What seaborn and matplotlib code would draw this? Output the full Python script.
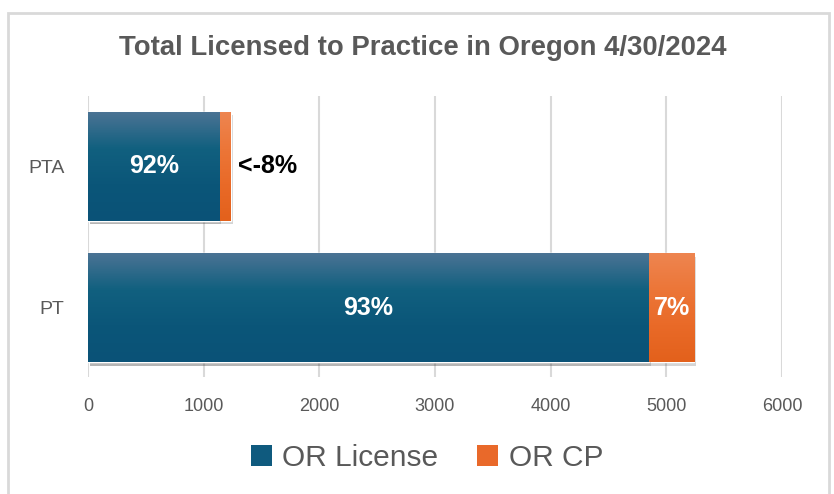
import matplotlib
matplotlib.use("Agg")
import matplotlib.pyplot as plt
import seaborn as sns
import numpy as np
import pandas as pd
from matplotlib.colors import LinearSegmentedColormap
from matplotlib.patches import Rectangle, Patch
import matplotlib.patheffects as pe

categories = ["PTA", "PT"]
or_license = [1135, 4850]
or_cp = [100, 390]
license_labels = ["92%", "93%"]
cp_labels = ["<-8%", "7%"]
x_ticks = [0, 1000, 2000, 3000, 4000, 5000, 6000]

df = pd.DataFrame({"category": categories, "OR License": or_license, "OR CP": or_cp})
df["total"] = df["OR License"] + df["OR CP"]

sns.set_theme(style="white")
plt.rcParams["font.family"] = ["Liberation Sans", "DejaVu Sans"]

BLUE = "#0F5A7E"
ORANGE = "#E9692A"
GRAY = "#595959"

fig = plt.figure(figsize=(8.34, 4.94), dpi=100)
ax = fig.add_axes([88/834, 1-377/494, 694/834, 281/494])

sns.barplot(data=df, x="total", y="category", color=ORANGE, width=0.77, ax=ax,
            saturation=1, orient="h")
sns.barplot(data=df, x="OR License", y="category", color=BLUE, width=0.77, ax=ax,
            saturation=1, orient="h")

blue_cmap = LinearSegmentedColormap.from_list("b", ["#4A7394", "#11607F", "#0B5679", "#0A5277"])
orange_cmap = LinearSegmentedColormap.from_list("o", ["#EE8550", "#EC7638", "#E96A28", "#E3611C"])
grad = np.linspace(0, 1, 100).reshape(-1, 1)
n = len(categories)
for i, p in enumerate(ax.patches):
    x0, y0 = p.get_x(), p.get_y()
    w, h = p.get_width(), p.get_height()
    cmap = orange_cmap if i < n else blue_cmap
    p.set_path_effects([pe.SimplePatchShadow(offset=(1.5, -2.5), alpha=0.22, shadow_rgbFace="#444444"), pe.Normal()])
    ax.imshow(grad, extent=[x0, x0 + w, y0 + h, y0], aspect="auto", cmap=cmap,
              zorder=p.get_zorder() + 0.1 + (0.5 if i >= n else 0), interpolation="bilinear")

ax.set_xlim(0, 6000)
ax.set_ylim(1.488, -0.498)
ax.set_xticks(x_ticks)
ax.set_xticklabels([str(t) for t in x_ticks])
ax.grid(axis="x", color="#D9D9D9", linewidth=1.5)
ax.set_axisbelow(True)
for s in ax.spines.values():
    s.set_visible(False)
ax.tick_params(axis="x", length=0, pad=15, labelsize=13, labelcolor=GRAY)
ax.tick_params(axis="y", length=0, pad=17, labelsize=14, labelcolor=GRAY)
ax.set_xlabel("")
ax.set_ylabel("")

for i in range(n):
    lic = or_license[i]
    cp = or_cp[i]
    ax.text(lic / 2, i, license_labels[i], color="white", fontsize=18, fontweight="bold",
            ha="center", va="center", zorder=10)
    if i == 0:
        ax.text(lic + cp + 65, i, cp_labels[i], color="black", fontsize=18, fontweight="bold",
                ha="left", va="center", zorder=10)
    else:
        ax.text(lic + cp / 2, i, cp_labels[i], color="white", fontsize=18, fontweight="bold",
                ha="center", va="center", zorder=10)

fig.text(0.507, 1 - 48/494, "Total Licensed to Practice in Oregon 4/30/2024", ha="center", va="center",
         fontsize=19.8, fontweight="bold", color=GRAY)

handles = [Patch(facecolor=BLUE, edgecolor="none", label="OR License"),
           Patch(facecolor=ORANGE, edgecolor="none", label="OR CP")]
fig.legend(handles=handles, loc="center", bbox_to_anchor=(0.512, 1 - 458/494), ncol=2, frameon=False,
           fontsize=21.5, labelcolor=GRAY, handlelength=0.7, handleheight=0.7, handletextpad=0.35,
           columnspacing=1.3)

fig.patches.append(Rectangle((8/834, -0.05), 821/834, 1.05 - 13/494, transform=fig.transFigure,
                             fill=False, edgecolor="#D9D9D9", linewidth=2))

fig.savefig("out.png", dpi=100)
